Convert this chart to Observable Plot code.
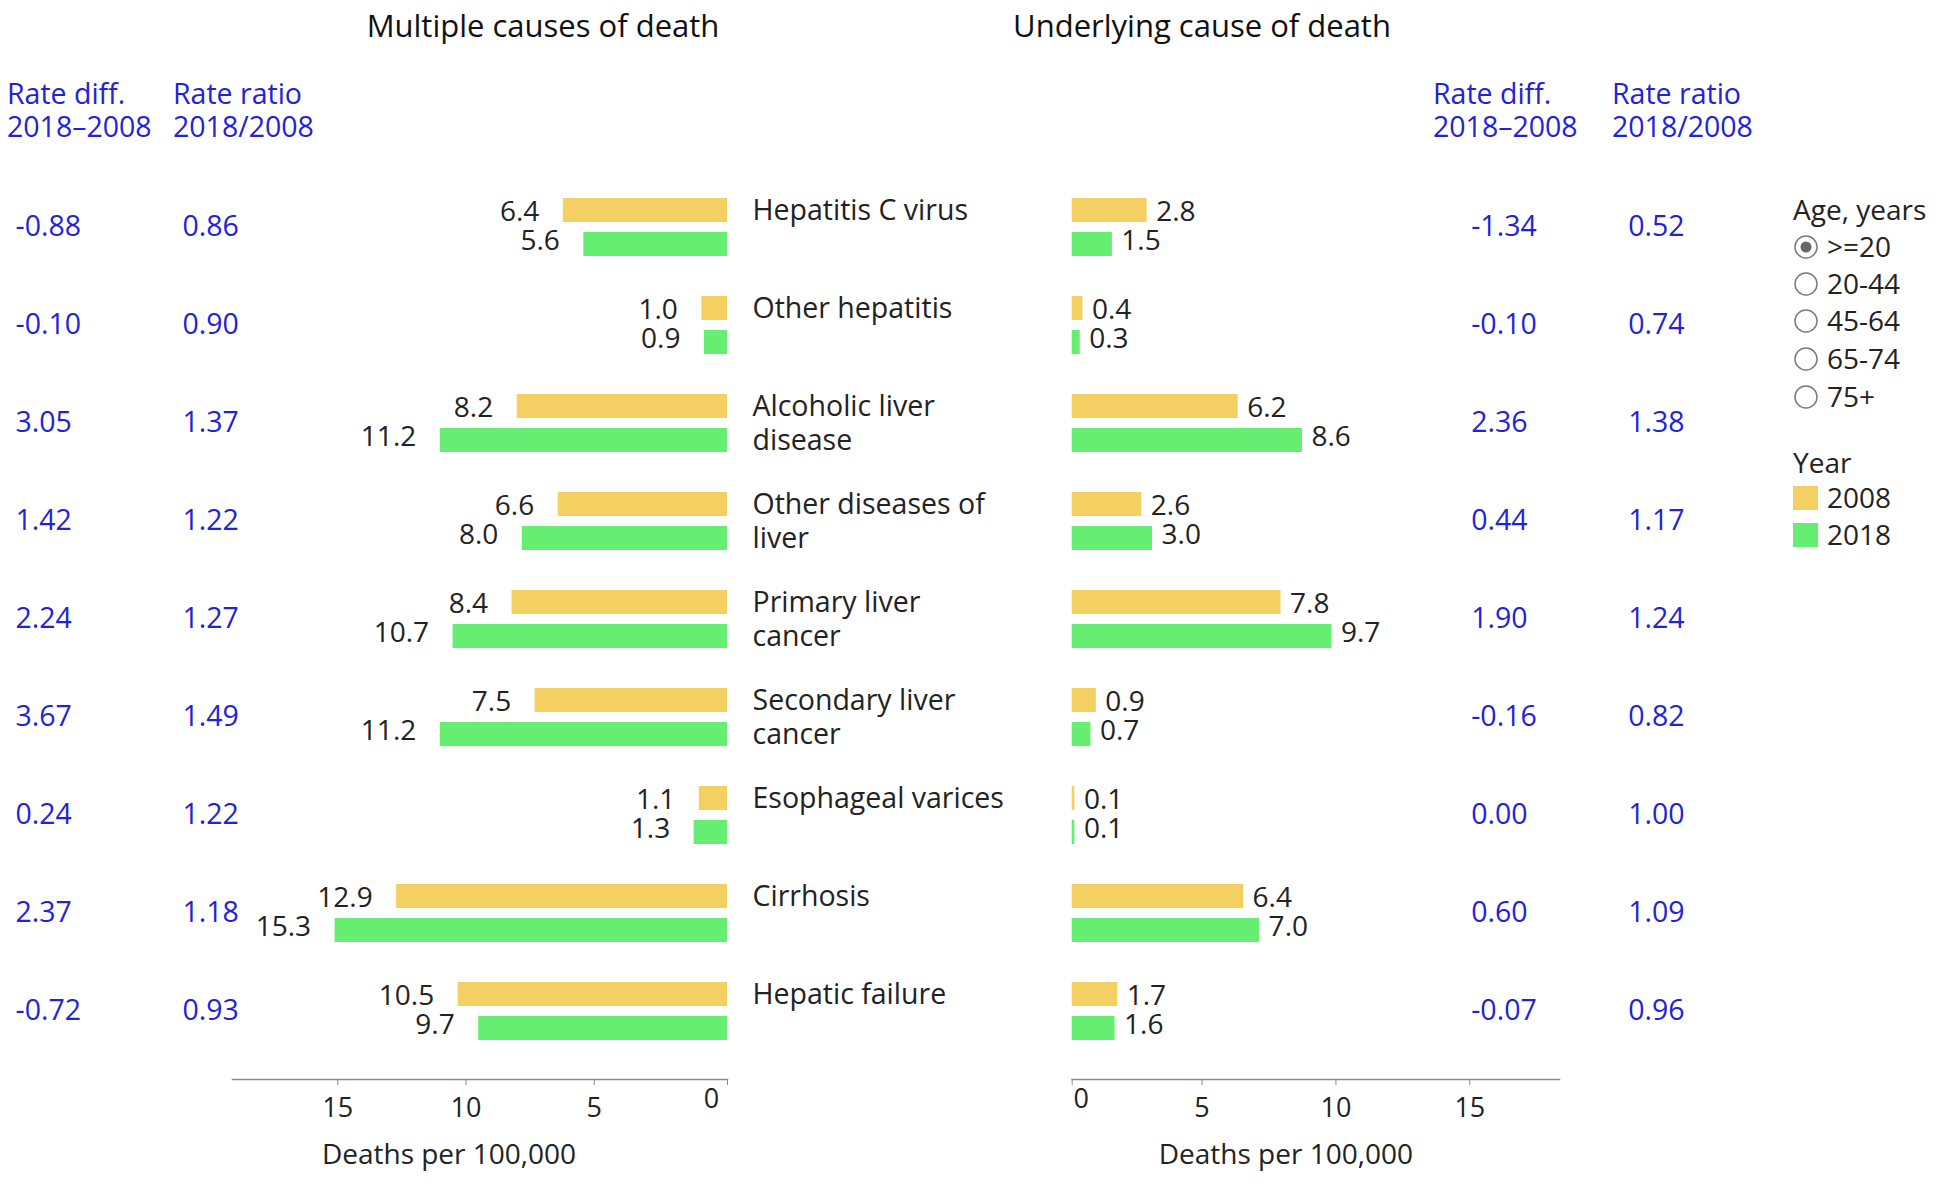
<!DOCTYPE html>
<html><head><meta charset="utf-8">
<script src="https://cdn.jsdelivr.net/npm/d3@7"></script>
<script src="https://cdn.jsdelivr.net/npm/@observablehq/plot@0.6"></script>
<style>
body{margin:0;background:#fff;}
#wrap{position:relative;width:1946px;height:1186px;overflow:hidden;background:#fff;}
#wrap > svg{position:absolute;top:0;}
</style></head><body><div id="wrap"></div>
<script>
// ---- data ----
const causes = ["Hepatitis C virus","Other hepatitis","Alcoholic liver disease","Other diseases of liver","Primary liver cancer","Secondary liver cancer","Esophageal varices","Cirrhosis","Hepatic failure"];
const causeLabels = ["Hepatitis C virus","Other hepatitis","Alcoholic liver\ndisease","Other diseases of\nliver","Primary liver\ncancer","Secondary liver\ncancer","Esophageal varices","Cirrhosis","Hepatic failure"];
const multiple2008 = [6.4, 1.0, 8.2, 6.6, 8.4, 7.5, 1.1, 12.9, 10.5];
const multiple2018 = [5.6, 0.9, 11.2, 8.0, 10.7, 11.2, 1.3, 15.3, 9.7];
const multipleDiff = [-0.88, -0.10, 3.05, 1.42, 2.24, 3.67, 0.24, 2.37, -0.72];
const multipleRatio = [0.86, 0.90, 1.37, 1.22, 1.27, 1.49, 1.22, 1.18, 0.93];
const underlying2008 = [2.8, 0.4, 6.2, 2.6, 7.8, 0.9, 0.1, 6.4, 1.7];
const underlying2018 = [1.5, 0.3, 8.6, 3.0, 9.7, 0.7, 0.1, 7.0, 1.6];
const underlyingDiff = [-1.34, -0.10, 2.36, 0.44, 1.90, -0.16, 0.00, 0.60, -0.07];
const underlyingRatio = [0.52, 0.74, 1.38, 1.17, 1.24, 0.82, 1.00, 1.09, 0.96];
const xTicks = [5, 10, 15];
const zeroTick = [0];
const ageGroups = [">=20", "20-44", "45-64", "65-74", "75+"];
const years = ["2008", "2018"];

// ---- styles ----
const c2008 = "#f4d063", c2018 = "#66ee72", blue = "#2222d8", ink = "#222";
const FONT = "'Open Sans', 'Noto Sans', sans-serif";

const rowsM = causes.map((c, i) => ({cause: c, label: causeLabels[i], a: multiple2008[i], b: multiple2018[i], diff: multipleDiff[i], ratio: multipleRatio[i]}));
const rowsU = causes.map((c, i) => ({cause: c, label: causeLabels[i], a: underlying2008[i], b: underlying2018[i], diff: underlyingDiff[i], ratio: underlyingRatio[i]}));

const H = 1186, MT = 176, MB = 107;
const yOpt = {domain: causes, padding: 0, insetBottom: 17, axis: null};
const VF = 28, BF = 28.5;

const wrap = document.getElementById("wrap");

// Left panel: multiple causes (x reversed)
const left = Plot.plot({
  width: 1040, height: H, marginTop: MT, marginBottom: MB, marginLeft: 232, marginRight: 313,
  style: {fontFamily: FONT, overflow: "visible", background: "transparent", color: ink},
  x: {domain: [0, 19.3], reverse: true},
  y: yOpt,
  marks: [
    Plot.barX(rowsM, {y: "cause", x: "a", fill: c2008, insetTop: 20, insetBottom: 54}),
    Plot.barX(rowsM, {y: "cause", x: "b", fill: c2018, insetTop: 54, insetBottom: 20}),
    Plot.text(rowsM, {y: "cause", x: "a", text: d => d.a.toFixed(1), textAnchor: "end", dx: -24, dy: -15, fontSize: VF, fill: ink}),
    Plot.text(rowsM, {y: "cause", x: "b", text: d => d.b.toFixed(1), textAnchor: "end", dx: -24, dy: 14, fontSize: VF, fill: ink}),
    Plot.text(rowsM, {y: "cause", text: "label", frameAnchor: "right", textAnchor: "start", dx: 25, lineAnchor: "top", lineHeight: 1.2, dy: -32, fontSize: 28.5, fill: ink}),
    Plot.text(rowsM, {y: "cause", text: d => d.diff.toFixed(2), frameAnchor: "left", textAnchor: "start", dx: 15 - 232, dy: -1, fontSize: BF, fill: blue}),
    Plot.text(rowsM, {y: "cause", text: d => d.ratio.toFixed(2), frameAnchor: "left", textAnchor: "start", dx: 182 - 232, dy: -1, fontSize: BF, fill: blue}),
    Plot.frame({anchor: "bottom", stroke: "#8a8a8a", strokeWidth: 1.5}),
    Plot.axisX({ticks: xTicks, tickSize: 6, tickPadding: 12, fontSize: 27, label: null, stroke: "#8a8a8a", textStroke: null, dx: -5}),
    Plot.axisX({ticks: zeroTick, tickSize: 6, tickPadding: 12, fontSize: 27, label: null, stroke: "#8a8a8a", tickFormat: () => ""}),
    Plot.text(zeroTick, {x: d => d, frameAnchor: "bottom", dx: -16, dy: 28, fontSize: 27, fill: ink}),
    Plot.text(["Deaths per 100,000"], {frameAnchor: "bottom", dx: -31, dy: 84, fontSize: 28, fill: ink})
  ]
});
left.style.left = "0px";
wrap.appendChild(left);

// Right panel: underlying cause
const right = Plot.plot({
  width: 906, height: H, marginTop: MT, marginBottom: MB, marginLeft: 31.7, marginRight: 387,
  style: {fontFamily: FONT, overflow: "visible", background: "transparent", color: ink},
  x: {domain: [0, 18.2]},
  y: yOpt,
  marks: [
    Plot.barX(rowsU, {y: "cause", x: "a", fill: c2008, insetTop: 20, insetBottom: 54}),
    Plot.barX(rowsU, {y: "cause", x: "b", fill: c2018, insetTop: 54, insetBottom: 20}),
    Plot.text(rowsU, {y: "cause", x: "a", text: d => d.a.toFixed(1), textAnchor: "start", dx: 9, dy: -15, fontSize: VF, fill: ink}),
    Plot.text(rowsU, {y: "cause", x: "b", text: d => d.b.toFixed(1), textAnchor: "start", dx: 9, dy: 14, fontSize: VF, fill: ink}),
    Plot.text(rowsU, {y: "cause", text: d => d.diff.toFixed(2), frameAnchor: "left", textAnchor: "start", dx: 399, dy: -1, fontSize: BF, fill: blue}),
    Plot.text(rowsU, {y: "cause", text: d => d.ratio.toFixed(2), frameAnchor: "left", textAnchor: "start", dx: 556, dy: -1, fontSize: BF, fill: blue}),
    Plot.frame({anchor: "bottom", stroke: "#8a8a8a", strokeWidth: 1.5}),
    Plot.axisX({ticks: xTicks, tickSize: 6, tickPadding: 12, fontSize: 27, label: null, stroke: "#8a8a8a", dx: -4}),
    Plot.axisX({ticks: zeroTick, tickSize: 6, tickPadding: 12, fontSize: 27, label: null, stroke: "#8a8a8a", tickFormat: () => ""}),
    Plot.text(zeroTick, {x: d => d, frameAnchor: "bottom", dx: 9, dy: 28, fontSize: 27, fill: ink}),
    Plot.text(["Deaths per 100,000"], {frameAnchor: "bottom", dx: -30, dy: 84, fontSize: 28, fill: ink})
  ]
});
right.style.left = "1040px";
wrap.appendChild(right);

// Overlay: titles, column headers, legend
const ov = d3.select(wrap).append("svg").attr("width", 1946).attr("height", H)
  .style("position", "absolute").style("left", "0px").style("top", "0px")
  .style("font-family", FONT).style("pointer-events", "none");

ov.append("text").attr("x", 543).attr("y", 37).attr("text-anchor", "middle").attr("font-size", 31).attr("fill", "#111").text("Multiple causes of death");
ov.append("text").attr("x", 1202).attr("y", 37).attr("text-anchor", "middle").attr("font-size", 31).attr("fill", "#111").text("Underlying cause of death");

const headers = [[7, "Rate diff.", "2018–2008"], [173, "Rate ratio", "2018/2008"], [1433, "Rate diff.", "2018–2008"], [1612, "Rate ratio", "2018/2008"]];
headers.forEach(([x, l1, l2]) => {
  const t = ov.append("text").attr("x", x).attr("y", 104).attr("font-size", 28.5).attr("fill", blue);
  t.append("tspan").attr("x", x).text(l1);
  t.append("tspan").attr("x", x).attr("dy", 33).text(l2);
});

// legend
ov.append("text").attr("x", 1793).attr("y", 220).attr("font-size", 28).attr("fill", ink).text("Age, years");
const ageY = [247, 284, 321, 359, 397];
ageGroups.forEach((g, i) => {
  ov.append("circle").attr("cx", 1806).attr("cy", ageY[i]).attr("r", 11).attr("fill", "#fff").attr("stroke", "#7a7a7a").attr("stroke-width", 1.5);
  if (i === 0) ov.append("circle").attr("cx", 1806).attr("cy", ageY[i]).attr("r", 5.5).attr("fill", "#666");
  ov.append("text").attr("x", 1827).attr("y", ageY[i] + 10).attr("font-size", 28).attr("fill", ink).text(g);
});
ov.append("text").attr("x", 1793).attr("y", 473).attr("font-size", 28).attr("fill", ink).text("Year");
const yearY = [498, 535];
years.forEach((yv, i) => {
  ov.append("rect").attr("x", 1793).attr("y", yearY[i] - 12).attr("width", 25).attr("height", 24).attr("fill", i === 0 ? c2008 : c2018);
  ov.append("text").attr("x", 1827).attr("y", yearY[i] + 10).attr("font-size", 28).attr("fill", ink).text(yv);
});
</script></body></html>
